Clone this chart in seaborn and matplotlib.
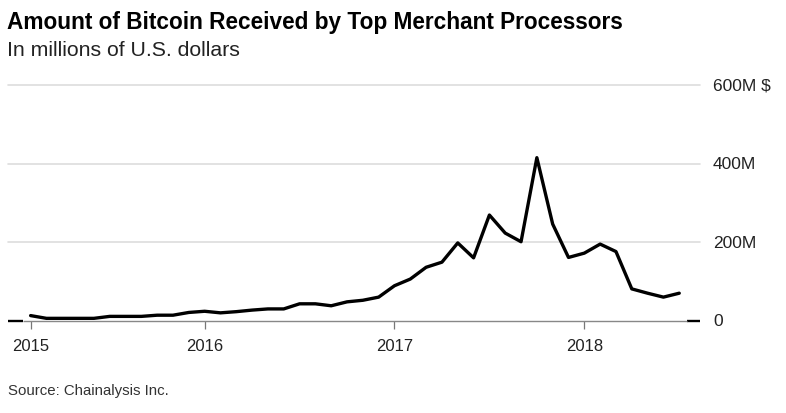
import matplotlib
matplotlib.use("Agg")
import matplotlib.pyplot as plt
import seaborn as sns
import pandas as pd

# month index: 0 = Jan 2015, 12 = Jan 2016, ...
MONTHS = list(range(1, 43))
VALUES = [
    13, 6, 6, 6, 6, 11, 11, 11, 14, 14, 21, 24,
    20, 23, 27, 30, 30, 43, 43, 38, 48, 52, 60, 89,
    106, 136, 149, 198, 160, 269, 223, 201, 415, 246, 161, 172,
    195, 176, 81, 70, 60, 70,
]
YEAR_TICKS = [1, 12, 24, 36]
YEAR_LABELS = ["2015", "2016", "2017", "2018"]
Y_TICKS = [0, 200, 400, 600]
Y_LABELS = ["0", "200M", "400M", "600M $"]

TITLE = "Amount of Bitcoin Received by Top Merchant Processors"
SUBTITLE = "In millions of U.S. dollars"
SOURCE = "Source: Chainalysis Inc."

W, H = 786, 414


def main():
    sns.set_style("white")
    plt.rcParams["font.family"] = ["Liberation Sans", "DejaVu Sans"]

    df = pd.DataFrame({"month": MONTHS, "value": VALUES})

    fig = plt.figure(figsize=(W / 100, H / 100), dpi=100)
    ax = fig.add_axes([8 / W, 1 - 321.7 / H, (700 - 8) / W, (321.7 - 86) / H])

    x_left = (8 - 14.8) / 15.82
    x_right = (700 - 14.8) / 15.82
    ax.set_xlim(x_left, x_right)
    ax.set_ylim(0, 600)

    # gridlines
    for y in Y_TICKS[1:]:
        ax.axhline(y, color="#dddddd", linewidth=1.2, zorder=1, clip_on=False)

    # zero line: black outside the data range, grey axis over it
    a0, a1 = MONTHS[0] - 0.5, MONTHS[-1] + 0.5
    ax.plot([x_left, a0], [0, 0], color="black", linewidth=1.7, zorder=2,
            clip_on=False, solid_capstyle="butt")
    ax.plot([a1, x_right], [0, 0], color="black", linewidth=1.7, zorder=2,
            clip_on=False, solid_capstyle="butt")
    ax.plot([a0, a1], [0, 0], color="#888888", linewidth=1.0, zorder=3,
            clip_on=False, solid_capstyle="butt")

    sns.lineplot(data=df, x="month", y="value", color="black", linewidth=2.4,
                 ax=ax, zorder=4, clip_on=False)

    for s in ax.spines.values():
        s.set_visible(False)

    ax.set_xticks(YEAR_TICKS)
    ax.set_xticklabels(YEAR_LABELS)
    ax.tick_params(axis="x", length=5.5, width=0.9, color="#777777", pad=7,
                   labelsize=12, labelcolor="#222222", direction="out")
    ax.xaxis.set_ticks_position("bottom")

    ax.yaxis.tick_right()
    ax.set_yticks(Y_TICKS)
    ax.set_yticklabels(Y_LABELS)
    ax.tick_params(axis="y", length=0, pad=9.4, labelsize=12.5, labelcolor="#222222")
    for lab in ax.get_yticklabels():
        lab.set_verticalalignment("center")

    ax.set_xlabel("")
    ax.set_ylabel("")
    ax.grid(False)

    fig.text(7 / W, 1 - 23 / H, TITLE, fontsize=16.3, fontweight="bold",
             color="black", va="center", ha="left")
    fig.text(7 / W, 1 - 50 / H, SUBTITLE, fontsize=15.3, color="#222222",
             va="center", ha="left")
    fig.text(8 / W, 1 - 391 / H, SOURCE, fontsize=10.8, color="#333333",
             va="center", ha="left")

    fig.savefig("out.png", dpi=100)
    plt.close(fig)


if __name__ == "__main__":
    main()
